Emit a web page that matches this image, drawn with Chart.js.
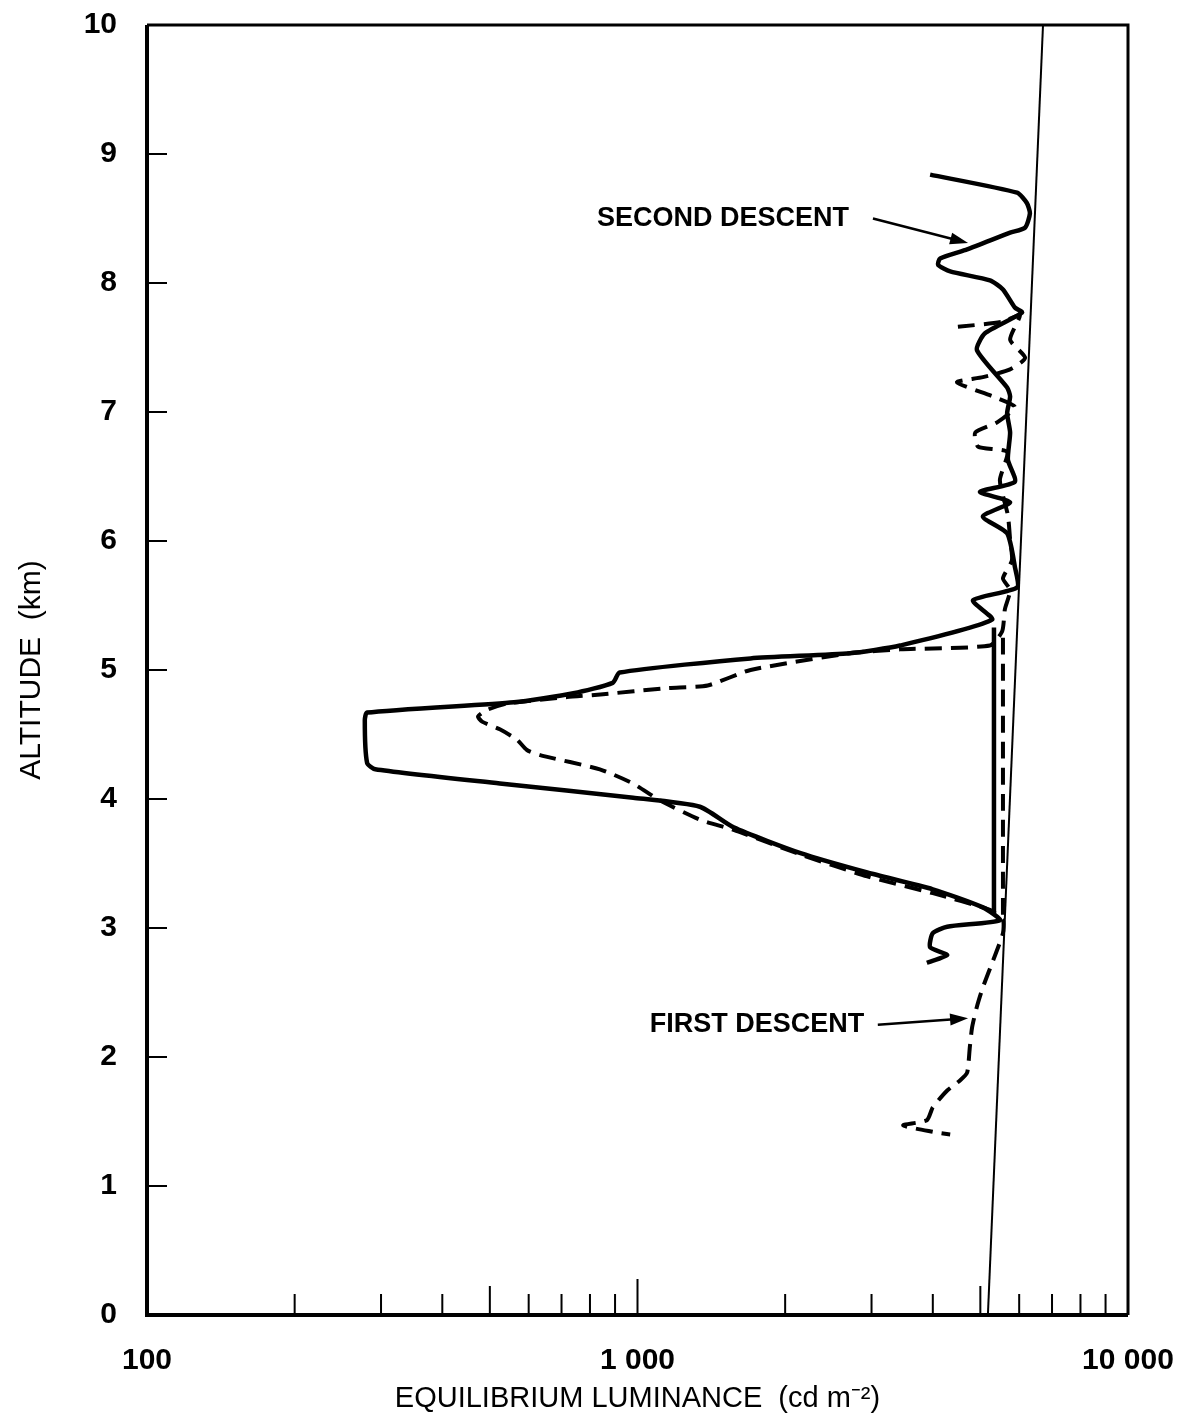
<!DOCTYPE html>
<html>
<head>
<meta charset="utf-8">
<script src="https://cdn.jsdelivr.net/npm/chart.js@4.4.0/dist/chart.umd.min.js"></script>
<style>
  html, body { margin: 0; padding: 0; background: #fff; }
  #wrap { width: 1184px; height: 1420px; }
</style>
</head>
<body>
<div id="wrap"><canvas id="lumChart" width="1184" height="1420"></canvas></div>
<script>
// second descent (solid line): luminance in cd m-2, altitude in km
const secondLum = [3950, 5940, 6220, 6310, 6170, 5750, 4700, 4140, 4100, 4340, 5230, 5560, 5880, 6080, 5110, 4920,
  5670, 5750, 5670, 5750, 5690, 5880, 4990, 5750, 5060, 5670, 5880, 5940, 4830, 5280, 3430, 2710, 1700, 920, 890,
  740, 560, 281, 278, 281, 292, 524, 980, 1340, 1570, 2150, 2940, 4000, 5060, 5480, 4280, 4000, 3950, 4280, 3890];
const secondAlt = [8.84, 8.70, 8.62, 8.54, 8.43, 8.39, 8.26, 8.19, 8.14, 8.09, 8.02, 7.95, 7.81, 7.77, 7.61, 7.48,
  7.19, 7.12, 6.99, 6.84, 6.63, 6.46, 6.38, 6.30, 6.19, 6.06, 5.80, 5.64, 5.54, 5.39, 5.19, 5.13, 5.09, 4.98, 4.90,
  4.82, 4.75, 4.67, 4.61, 4.28, 4.23, 4.12, 4.01, 3.94, 3.78, 3.58, 3.43, 3.30, 3.16, 3.06, 3.01, 2.96, 2.85, 2.79, 2.73];
const secondVertLum = [5330, 5330];
const secondVertAlt = [5.33, 3.10];

// first descent (dashed line)
const firstLum = [4500, 5560, 6020, 5750, 6170, 5750, 5060, 4480, 5310, 5880, 5410, 4880, 4950, 5670, 5480, 5690,
  5750, 5800, 5560, 5750, 5610, 5540, 5230, 3430, 2710, 1700, 1390, 1150, 840, 718, 542, 493, 473, 482, 524, 568,
  595, 633, 838, 979, 1110, 1340, 1570, 2150, 2940, 4000, 5230, 5560, 5560, 5310, 5060, 4920, 4810, 4760, 4700,
  4550, 4280, 4000, 3890, 3480, 4000, 4340];
const firstAlt = [7.66, 7.70, 7.75, 7.56, 7.42, 7.33, 7.27, 7.23, 7.12, 7.04, 6.92, 6.84, 6.73, 6.69, 6.47, 6.20,
  6.01, 5.85, 5.71, 5.62, 5.47, 5.30, 5.19, 5.16, 5.13, 5.00, 4.88, 4.86, 4.81, 4.79, 4.74, 4.69, 4.64, 4.60, 4.54,
  4.46, 4.38, 4.34, 4.23, 4.12, 3.99, 3.84, 3.76, 3.57, 3.40, 3.27, 3.14, 3.06, 2.96, 2.75, 2.54, 2.39, 2.23, 2.08,
  1.88, 1.82, 1.74, 1.61, 1.51, 1.47, 1.42, 1.40];
const firstVertLum = [5560, 5560];
const firstVertAlt = [5.25, 3.10];

// thin reference line
const refLum = [5180, 6710];
const refAlt = [0, 10];

// axis ticks
const xLabelTicks = [100, 1000, 10000];
const xMinorTicks = [200, 300, 400, 600, 700, 800, 900, 2000, 3000, 4000, 6000, 7000, 8000, 9000];
const xMidTicks = [500, 5000];
const xMajorTicks = [1000];
const yTicks = [1, 2, 3, 4, 5, 6, 7, 8, 9];

// annotations
const noteText = ['SECOND DESCENT', 'FIRST DESCENT'];
const noteLum = [2700, 2900];
const noteAlt = [8.50, 2.25];
const arrowFromLum = [3020, 3090];
const arrowFromAlt = [8.50, 2.25];
const arrowToLum = [4720, 4720];
const arrowToAlt = [8.31, 2.30];

const toPoints = (xs, ys) => xs.map((v, i) => ({ x: v, y: ys[i] }));

Chart.defaults.font.family = "'Liberation Sans Narrow', 'Arial Narrow', 'Liberation Sans', Arial, sans-serif";
Chart.defaults.color = '#000';

const decor = {
  id: 'decor',
  afterDraw(chart) {
    const { ctx, chartArea: a, scales: { x, y } } = chart;
    ctx.save();
    ctx.strokeStyle = '#000';
    ctx.fillStyle = '#000';

    // frame
    ctx.lineWidth = 4;
    ctx.beginPath();
    ctx.moveTo(a.left, a.top);
    ctx.lineTo(a.left, a.bottom);
    ctx.lineTo(a.right, a.bottom);
    ctx.stroke();
    ctx.lineWidth = 3;
    ctx.beginPath();
    ctx.moveTo(a.left, a.top);
    ctx.lineTo(a.right, a.top);
    ctx.lineTo(a.right, a.bottom);
    ctx.stroke();

    // inward tick marks
    ctx.lineWidth = 2;
    ctx.beginPath();
    yTicks.forEach(v => {
      const py = y.getPixelForValue(v);
      ctx.moveTo(a.left, py);
      ctx.lineTo(a.left + 20, py);
    });
    const xt = (vals, len) => vals.forEach(v => {
      const px = x.getPixelForValue(v);
      ctx.moveTo(px, a.bottom);
      ctx.lineTo(px, a.bottom - len);
    });
    xt(xMinorTicks, 21);
    xt(xMidTicks, 29);
    xt(xMajorTicks, 36);
    ctx.stroke();

    // labels with arrows
    ctx.font = "bold 27px 'Liberation Sans Narrow', 'Arial Narrow', 'Liberation Sans', Arial, sans-serif";
    ctx.textAlign = 'right';
    ctx.textBaseline = 'middle';
    noteText.forEach((t, i) => {
      ctx.fillText(t, x.getPixelForValue(noteLum[i]), y.getPixelForValue(noteAlt[i]));
      const x0 = x.getPixelForValue(arrowFromLum[i]), y0 = y.getPixelForValue(arrowFromAlt[i]);
      const x1 = x.getPixelForValue(arrowToLum[i]), y1 = y.getPixelForValue(arrowToAlt[i]);
      const ang = Math.atan2(y1 - y0, x1 - x0);
      ctx.lineWidth = 2.5;
      ctx.beginPath();
      ctx.moveTo(x0, y0);
      ctx.lineTo(x1 - 14 * Math.cos(ang), y1 - 14 * Math.sin(ang));
      ctx.stroke();
      ctx.beginPath();
      ctx.moveTo(x1, y1);
      ctx.lineTo(x1 - 18 * Math.cos(ang) + 6 * Math.sin(ang), y1 - 18 * Math.sin(ang) - 6 * Math.cos(ang));
      ctx.lineTo(x1 - 18 * Math.cos(ang) - 6 * Math.sin(ang), y1 - 18 * Math.sin(ang) + 6 * Math.cos(ang));
      ctx.closePath();
      ctx.fill();
    });
    ctx.restore();
  }
};

const solidStyle = { borderColor: '#000', borderWidth: 4.5, tension: 0.2, pointRadius: 0, showLine: true, fill: false };
const dashStyle = { ...solidStyle, borderWidth: 4, borderDash: [17, 9] };

// keep tick labels from pushing the plot area inwards
const noPad = scale => {
  scale.paddingLeft = 0;
  scale.paddingRight = 0;
  scale.paddingTop = 0;
  scale.paddingBottom = 0;
};

new Chart(document.getElementById('lumChart'), {
  type: 'scatter',
  data: {
    datasets: [
      { label: 'Reference', data: toPoints(refLum, refAlt), borderColor: '#000', borderWidth: 2, pointRadius: 0, showLine: true, tension: 0 },
      { label: 'Second descent', data: toPoints(secondLum, secondAlt), ...solidStyle },
      { label: 'Second descent (b)', data: toPoints(secondVertLum, secondVertAlt), ...solidStyle },
      { label: 'First descent', data: toPoints(firstLum, firstAlt), ...dashStyle },
      { label: 'First descent (b)', data: toPoints(firstVertLum, firstVertAlt), ...dashStyle }
    ]
  },
  options: {
    responsive: false,
    animation: false,
    layout: { padding: { top: 25, right: 56, left: 0, bottom: 0 } },
    plugins: { legend: { display: false }, tooltip: { enabled: false } },
    scales: {
      x: {
        type: 'logarithmic',
        min: 100,
        max: 10000,
        grid: { display: false, drawTicks: false },
        border: { display: false },
        afterBuildTicks: scale => { scale.ticks = xLabelTicks.map(v => ({ value: v })); },
        afterFit: scale => { scale.height = 105; noPad(scale); },
        ticks: {
          autoSkip: false,
          maxRotation: 0,
          padding: 28,
          font: { size: 30, weight: 'bold' },
          callback: v => v >= 1000 ? v.toLocaleString('en-US').replace(',', ' ') : String(v)
        },
        title: {
          display: true,
          text: 'EQUILIBRIUM LUMINANCE  (cd m\u207B\u00B2)',
          font: { size: 29 },
          padding: { top: 0, bottom: 4 }
        }
      },
      y: {
        min: 0,
        max: 10,
        grid: { display: false, drawTicks: false },
        border: { display: false },
        afterFit: scale => { scale.width = 147; noPad(scale); },
        ticks: { stepSize: 1, padding: 30, font: { size: 30, weight: 'bold' } },
        title: {
          display: true,
          text: 'ALTITUDE  (km)',
          font: { size: 30 },
          padding: { top: 14, bottom: 0 }
        }
      }
    }
  },
  plugins: [decor]
});
</script>
</body>
</html>
